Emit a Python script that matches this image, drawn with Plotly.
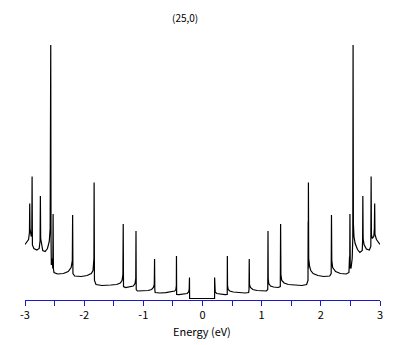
import plotly.graph_objects as go

# Density of states, (25,0) nanotube
energy_neg = [-3.00, -2.97, -2.94, -2.925, -2.920, -2.915, -2.895, -2.885, -2.880, -2.875,
              -2.85, -2.80, -2.76, -2.745, -2.740, -2.735, -2.70, -2.66, -2.62, -2.59,
              -2.575, -2.565, -2.560, -2.555, -2.545, -2.530, -2.525, -2.520, -2.51, -2.45,
              -2.35, -2.27, -2.22, -2.200, -2.195, -2.190, -2.16, -2.05, -1.95, -1.88,
              -1.85, -1.835, -1.832, -1.830, -1.828, -1.826, -1.80, -1.70, -1.55, -1.45,
              -1.39, -1.36, -1.345, -1.340, -1.335, -1.30, -1.22, -1.17, -1.14, -1.128,
              -1.124, -1.120, -1.10, -1.00, -0.92, -0.86, -0.83, -0.815, -0.810, -0.806,
              -0.80, -0.72, -0.62, -0.52, -0.47, -0.45, -0.442, -0.440, -0.437, -0.40,
              -0.32, -0.26, -0.235, -0.225, -0.220, -0.218, 0.0]
dos_neg = [54, 56.5, 59, 66, 95, 70, 62, 64, 122, 53.5,
           50, 48.5, 50, 58, 102.5, 60, 48, 47, 50, 57,
           70, 253.5, 60, 33.5, 40, 30, 84.5, 30, 26, 24.5,
           25, 27, 31, 38, 83.5, 25, 22.5, 22, 23, 25,
           28, 40, 116, 30, 72, 18, 14, 13, 13.5, 14,
           15.5, 18, 24, 74.5, 12, 11, 11.5, 12.5, 15, 20,
           67.5, 9, 7.5, 7.5, 8, 9, 11, 14, 39.5, 9,
           6, 5.5, 5.8, 6.5, 7.5, 9, 13, 42.5, 4, 3.8,
           4.2, 5, 6.5, 9, 21, 0, 0]

energy_pos = [0.204, 0.205, 0.208, 0.215, 0.24, 0.30, 0.38, 0.418, 0.420, 0.423,
              0.435, 0.46, 0.52, 0.62, 0.72, 0.78, 0.786, 0.790, 0.794, 0.81,
              0.85, 0.92, 1.00, 1.08, 1.103, 1.107, 1.111, 1.12, 1.15, 1.20,
              1.28, 1.315, 1.320, 1.325, 1.34, 1.38, 1.45, 1.55, 1.68, 1.76,
              1.783, 1.786, 1.788, 1.790, 1.795, 1.81, 1.83, 1.87, 1.95, 2.05,
              2.15, 2.175, 2.180, 2.185, 2.20, 2.25, 2.33, 2.43, 2.475, 2.485,
              2.488, 2.492, 2.497, 2.51, 2.53, 2.540, 2.545, 2.550, 2.56, 2.58,
              2.62, 2.66, 2.70, 2.706, 2.710, 2.715, 2.73, 2.77, 2.82, 2.845,
              2.850, 2.855, 2.87, 2.895, 2.905, 2.910, 2.915, 2.94, 2.97, 3.00]
dos_pos = [0, 21, 9, 6.5, 5, 4.2, 3.8, 4, 42.5, 13,
           9, 7.5, 6.5, 5.8, 5.5, 6, 9, 39.5, 14, 11,
           9, 8, 7.5, 7.5, 9, 67.5, 20, 15, 12.5, 11.5,
           11, 12, 74.5, 24, 18, 15.5, 14, 13.5, 13, 14,
           18, 77, 30, 116, 40, 32, 28, 25, 23, 22,
           22.5, 25, 83.5, 38, 31, 27, 25, 24.5, 26, 42,
           30, 84.5, 32, 30, 40, 60, 253.5, 75, 62, 55,
           49, 46, 48, 58, 102.5, 60, 54, 49.5, 48.5, 52,
           122, 64, 60, 62, 70, 95, 64, 59, 56, 54]

tick_vals = [-3, -2, -1, 0, 1, 2, 3]
tick_text = ["-3", "-2", "-1", "0", "1", "2", "3"]
title_text = "(25,0)"
x_label = "Energy (eV)"

FONT = "Noto Sans CJK JP"
AXIS_BLUE = "#1a1acc"

# page body has an 8px margin; compensate so the plot lands where the reference has it
fig = go.Figure()
fig.add_trace(go.Scatter(
    x=energy_neg + energy_pos, y=dos_neg + dos_pos,
    mode="lines", line=dict(color="black", width=1.2),
    hoverinfo="skip", showlegend=False))

fig.update_layout(
    width=393, height=335,
    margin=dict(l=13, r=21, t=32, b=43),
    paper_bgcolor="white", plot_bgcolor="white",
    font=dict(family=FONT, size=11, color="black"),
    xaxis=dict(range=[-3, 3], showgrid=False, zeroline=False,
               showline=True, linecolor=AXIS_BLUE, linewidth=1,
               ticks="outside", ticklen=5, tickcolor=AXIS_BLUE, tickwidth=1,
               tickvals=tick_vals, ticktext=tick_text,
               minor=dict(dtick=0.5, ticks="outside", ticklen=5,
                          tickcolor=AXIS_BLUE, tickwidth=1),
               tickfont=dict(family=FONT, size=11, color="black"),
               fixedrange=True),
    yaxis=dict(range=[-1.5, 258.5], visible=False, fixedrange=True),
    annotations=[
        dict(text=title_text, xref="paper", yref="paper",
             x=(183 - 21) / 359, y=(292 - 0) / 260, xanchor="center", yanchor="top",
             showarrow=False, font=dict(family=FONT, size=10, color="black")),
        dict(text=x_label, xref="paper", yref="paper",
             x=(200 - 21) / 359, y=(300 - 331) / 260, xanchor="center", yanchor="middle",
             showarrow=False, font=dict(family=FONT, size=11, color="black")),
    ],
)

fig.write_html("out.html")
